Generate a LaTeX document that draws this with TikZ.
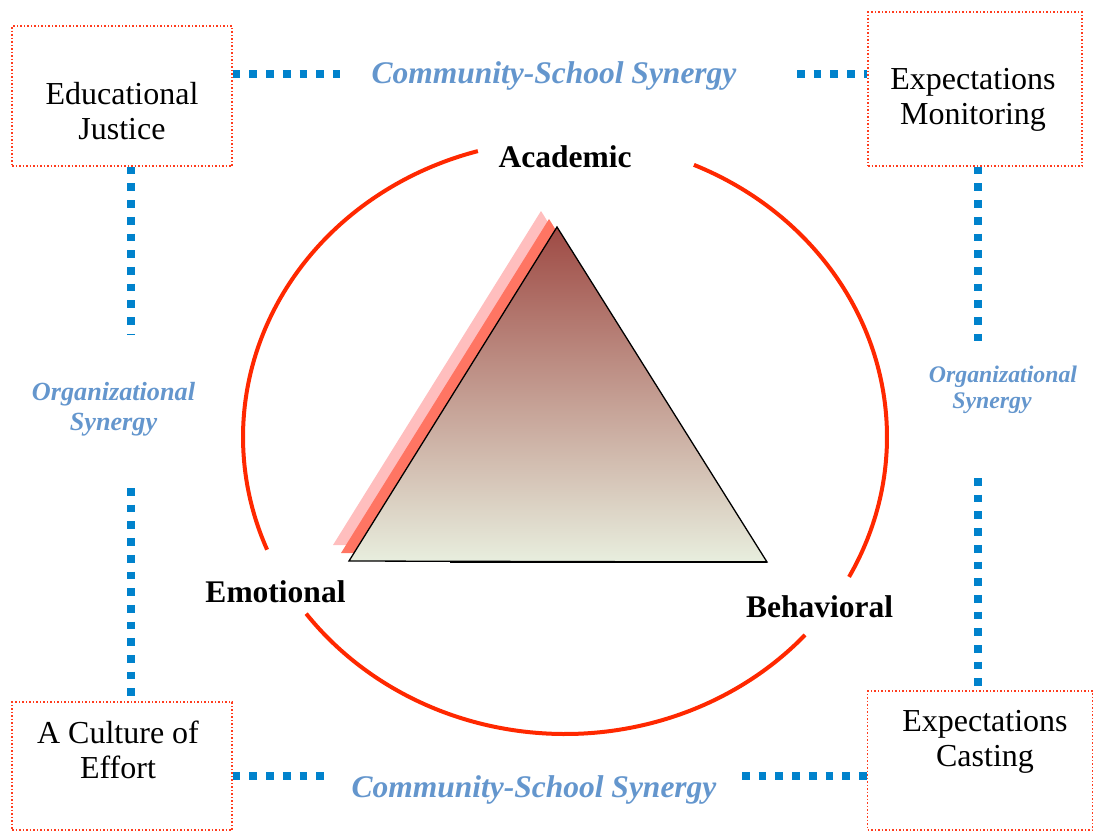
\documentclass[tikz,border=0pt]{standalone}
\usepackage{fontspec}
\setmainfont{Liberation Serif}
\usepackage{tikz}
\usetikzlibrary{positioning}
\usepackage{xcolor}
\definecolor{boxred}{RGB}{255,60,30}
\definecolor{ringred}{RGB}{255,40,0}
\definecolor{dotblue}{RGB}{0,130,204}
\definecolor{synblue}{RGB}{100,150,205}
\definecolor{shadepink}{RGB}{255,190,190}
\definecolor{shadesalmon}{RGB}{255,117,99}
\definecolor{apexred}{RGB}{158,74,68}
\definecolor{midtan}{RGB}{200,182,168}
\definecolor{basegreen}{RGB}{232,238,222}
\tikzset{boxframe/.style={rectangle,draw=boxred,dotted,line width=1.5pt}}
\tikzset{boxtext/.style={align=center,inner sep=0pt,font=\fontsize{32}{35.5}\selectfont}}
\tikzset{facelabel/.style={anchor=base,inner sep=0pt,font=\fontsize{31.5}{36}\selectfont\bfseries}}
\tikzset{synlabel/.style={anchor=base,inner sep=0pt,text=synblue,font=\fontsize{31.5}{36}\selectfont\bfseries\itshape}}
\tikzset{synline/.style={draw=dotblue,line width=8pt,dash pattern=on 7.7pt off 9pt}}

\begin{document}
\begin{tikzpicture}[x=1pt,y=-1pt]
\useasboundingbox (0,0) rectangle (1094,831);
% \draw[help lines] (0,0) grid[step=100] (1094,831);
\node (tl) [boxframe,minimum width=220,minimum height=140] at (122,96) {};
\node (tr) [boxframe,minimum width=214,minimum height=154] at (975,89) {};
\node (bl) [boxframe,minimum width=220,minimum height=128] at (122,766) {};
\node (br) [boxframe,minimum width=225,minimum height=139] at (980,760.5) {};
%
\node (tltext) [boxtext] at (122,111) {Educational\\Justice};
\node (trtext) [boxtext] at (973,100) {Expectations\\Monitoring};
\node (bltext) [boxtext] at (118,750) {A Culture of\\Effort};
\node (brtext) [boxtext] at (985,742) {Expectations\\Casting};
%
\node (comtop) [synlabel] at (554,83) {Community-School Synergy};
\node (combot) [synlabel] at (534,797) {Community-School Synergy};
\node (orgleft) [synlabel,anchor=center,align=center,font=\fontsize{26.2}{30}\selectfont\bfseries\itshape] at (113.5,409) {Organizational\\Synergy};
\node (orgright) [synlabel,anchor=center,align=center,font=\fontsize{23.8}{26}\selectfont\bfseries\itshape] at (1003,389.5) {Organizational\\Synergy\hspace*{22pt}};
%
\coordinate (topgapl) at (340,74);
\coordinate (topgapr) at (797,74);
\coordinate (botgapl) at (330,775.5);
\coordinate (botgapr) at (742,775.5);
\coordinate (leftgapu) at (131,335);
\coordinate (leftgapd) at (131,488);
\coordinate (rightgapu) at (978,345);
\coordinate (rightgapd) at (978,478);
\draw[synline] (topgapl -| tl.east) -- (topgapl);
\draw[synline] (topgapr) -- (topgapr -| tr.west);
\draw[synline] (botgapl -| bl.east) -- (botgapl);
\draw[synline] (botgapr) -- (botgapr -| br.west);
\draw[synline] (leftgapu |- tl.south) -- (leftgapu);
\draw[synline] (leftgapd) -- (leftgapd |- bl.north);
\draw[synline] (rightgapu |- tr.south) -- (rightgapu);
\draw[synline] (rightgapd) -- (rightgapd |- br.north);
%
% ring, broken at the three labels
\draw[ringred,line width=4] (565,437) ++(-66.4:322 and 297) arc[start angle=-66.4,end angle=28.1,x radius=322,y radius=297];
\draw[ringred,line width=4] (565,437) ++(41.8:322 and 297) arc[start angle=41.8,end angle=143.5,x radius=322,y radius=297];
\draw[ringred,line width=4] (565,437) ++(157.7:322 and 297) arc[start angle=157.7,end angle=254.3,x radius=322,y radius=297];
%
% triangle with its two shadows
\fill[shadepink] (333,545) -- (541,211) -- (751,546) -- cycle;
\fill[shadesalmon] (341,553) -- (549,219) -- (759,554) -- cycle;
\shade[top color=apexred,middle color=midtan,bottom color=basegreen] (349,561) -- (557,227) -- (767,562) -- cycle;
\draw[line width=1.3] (349,561) -- (557,227) -- (767,562) -- cycle;
\draw[line width=2.2] (450,562) -- (767,562);
%
\node (academic) [facelabel] at (565,167) {Academic};
\node (emotional) [facelabel] at (275.5,602) {Emotional};
\node (behavioral) [facelabel] at (819.5,617) {Behavioral};
%
\end{tikzpicture}
\end{document}
